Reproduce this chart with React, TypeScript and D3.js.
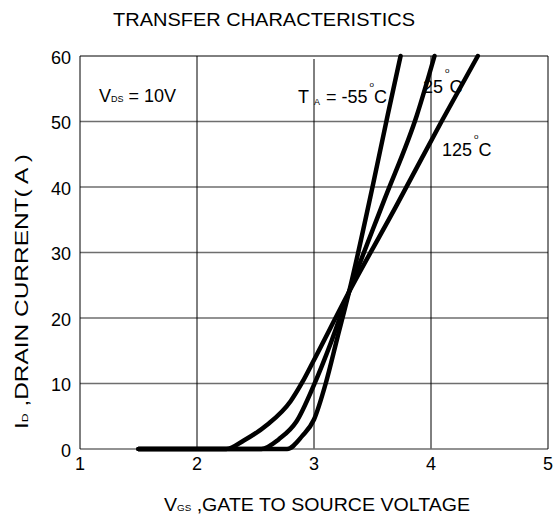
import * as d3 from "d3";

// I_D (A) vs V_GS (V)
const vgsCold = [1.5, 2.77, 2.9, 3.0, 3.1, 3.2, 3.3, 3.5, 3.63, 3.74];
const idCold = [0, 0, 2, 4.5, 10, 17, 24, 40, 51, 60];
const vgsRoom = [1.5, 2.55, 2.7, 2.85, 3.0, 3.15, 3.3, 3.6, 3.88, 4.03];
const idRoom = [0, 0, 1.5, 4.2, 9.8, 16.5, 24, 38, 51, 60];
const vgsHot = [1.5, 2.25, 2.4, 2.6, 2.8, 2.9, 3.0, 3.3, 3.7, 4.09, 4.4];
const idHot = [0, 0, 1.3, 3.7, 7.3, 10.2, 13.6, 24, 37, 50, 60];

const xTicks = [1, 2, 3, 4, 5];
const yTicks = [0, 10, 20, 30, 40, 50, 60];

const series = [
  { name: "-55", xs: vgsCold, ys: idCold },
  { name: "25", xs: vgsRoom, ys: idRoom },
  { name: "125", xs: vgsHot, ys: idHot },
];

const W = 553;
const H = 517;
const FONT = "'Liberation Sans', Arial, sans-serif";

export default function App() {
  const x = d3.scaleLinear().domain([1, 5]).range([80, 548]);
  const y = d3.scaleLinear().domain([0, 60]).range([449, 56]);

  const line = d3
    .line<[number, number]>()
    .x((d) => x(d[0]))
    .y((d) => y(d[1]))
    .curve(d3.curveMonotoneX);

  return (
    <svg
      width={W}
      height={H}
      style={{ position: "absolute", left: 0, top: 0, background: "#fff" }}
      fontFamily={FONT}
    >
      {/* title */}
      <text x={113} y={26} fontSize={18.5} fill="#000" textLength={302} lengthAdjust="spacingAndGlyphs">
        TRANSFER CHARACTERISTICS
      </text>

      {/* grid */}
      {yTicks.slice(1, -1).map((t) => (
        <line
          key={"h" + t}
          x1={x(1)}
          x2={x(5)}
          y1={y(t)}
          y2={y(t)}
          stroke="#6e6e6e"
          strokeWidth={1.3}
        />
      ))}
      {xTicks.slice(1, -1).map((t) => (
        <line
          key={"v" + t}
          x1={x(t)}
          x2={x(t)}
          y1={y(60) + (t === 3 ? 3 : 0)}
          y2={y(0)}
          stroke="#000"
          strokeWidth={1}
        />
      ))}
      <line x1={x(1)} x2={x(5)} y1={y(0)} y2={y(0)} stroke="#6e6e6e" strokeWidth={1.5} />
      <line x1={x(1)} x2={x(5)} y1={y(60)} y2={y(60)} stroke="#000" strokeWidth={1} />
      <line x1={x(1)} x2={x(1)} y1={y(60)} y2={y(0)} stroke="#000" strokeWidth={1} />
      <line x1={x(5)} x2={x(5)} y1={y(60)} y2={y(0)} stroke="#000" strokeWidth={1} />

      {/* tick labels */}
      {yTicks.map((t) => (
        <text key={"yl" + t} x={71} y={y(t) + 3} fontSize={18} textAnchor="end" dominantBaseline="middle">
          {t}
        </text>
      ))}
      {xTicks.map((t) => (
        <text key={"xl" + t} x={x(t)} y={470} fontSize={18} textAnchor="middle">
          {t}
        </text>
      ))}

      {/* curves */}
      {series.map((s) => (
        <path
          key={s.name}
          d={line(s.xs.map((v, i) => [v, s.ys[i]] as [number, number])) || ""}
          fill="none"
          stroke="#000"
          strokeWidth={4.5}
          strokeLinecap="round"
          strokeLinejoin="round"
        />
      ))}

      {/* annotations */}
      <text x={99} y={102} fontSize={18}>
        V<tspan fontSize={9}>DS</tspan> = 10V
      </text>
      <text x={298} y={103} fontSize={18}>
        T
        <tspan x={314} dy={2} fontSize={9}>A</tspan>
        <tspan x={326} dy={-2}>= -55</tspan>
        <tspan fontSize={8} dx={2} dy={-16}>o</tspan>
        <tspan dy={16}>C</tspan>
      </text>
      <text x={423} y={93} fontSize={18}>
        25
        <tspan fontSize={8} dx={2} dy={-20}>o</tspan>
        <tspan dy={20}>C</tspan>
      </text>
      <text x={442} y={156} fontSize={18}>
        125
        <tspan fontSize={8} dx={2} dy={-17}>o</tspan>
        <tspan dy={17}>C</tspan>
      </text>

      {/* axis titles */}
      <text x={164} y={511} fontSize={18} textLength={306} lengthAdjust="spacingAndGlyphs">
        V<tspan fontSize={9}>GS</tspan> ,GATE TO SOURCE VOLTAGE
      </text>
      <text
        transform={`translate(28,${292}) rotate(-90)`}
        x={-137}
        fontSize={18}
        textLength={275}
        lengthAdjust="spacingAndGlyphs"
      >
        I<tspan fontSize={9}>D</tspan> ,DRAIN CURRENT( A )
      </text>
    </svg>
  );
}
